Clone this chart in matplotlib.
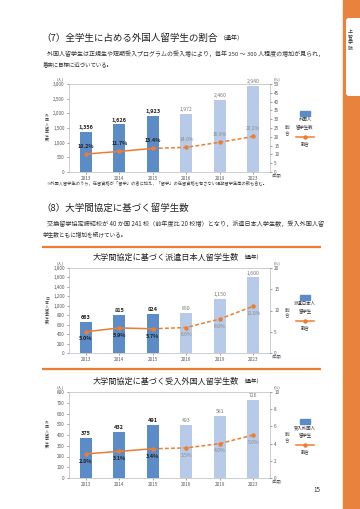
import matplotlib
matplotlib.use("Agg")
import matplotlib.pyplot as plt
from matplotlib.patches import Rectangle, FancyBboxPatch

plt.rcParams['font.family'] = ['Noto Sans CJK JP', 'DejaVu Sans']

years = ["2013", "2014", "2015", "2016", "2019", "2023"]

intl_students = [1356, 1626, 1923, 1972, 2460, 2940]
intl_ratio = [10.2, 11.7, 13.4, 14.0, 16.9, 20.2]

outbound_students = [663, 815, 824, 850, 1150, 1600]
outbound_ratio = [5.0, 5.9, 5.7, 6.0, 8.0, 11.0]

inbound_students = [375, 432, 491, 493, 581, 726]
inbound_ratio = [2.8, 3.1, 3.4, 3.5, 4.0, 5.0]

n_actual = 3  # first three are actual, rest are targets

DARK = "#5B8CC8"
LIGHT = "#B7CBE8"
ORANGE = "#ED7D31"

W, H = 360, 509
fig = plt.figure(figsize=(W / 100, H / 100), dpi=100)
fig.patch.set_facecolor("white")

bg = fig.add_axes([0, 0, 1, 1])
bg.set_xlim(0, W)
bg.set_ylim(H, 0)
bg.axis("off")

renderer = fig.canvas.get_renderer()


def fit_text(x0, x1, y, s, size, **kw):
    """Place left-aligned text and scale its size so it spans x0..x1 pixels."""
    t = bg.text(x0, y, s, fontsize=size, ha="left", va="center", **kw)
    w = t.get_window_extent(renderer).width
    t.set_fontsize(size * (x1 - x0) / w)
    return t


def text_end(t):
    return t.get_window_extent(renderer).x1


# sidebar
bg.add_patch(Rectangle((343, 0), 17, H, color="#E8823D", zorder=1))
bg.add_patch(FancyBboxPatch((346, 18), 20, 78, boxstyle="round,pad=0,rounding_size=3",
                            fc="white", ec="none", zorder=2))
bg.text(350, 40, "上\n智\n学\n院", fontsize=3.6, ha="center", va="center",
        linespacing=1.1, color="#333333", zorder=3)

# section 7
t7 = fit_text(41, 218, 38, "（7）全学生に占める外国人留学生の割合", 7.0, color="#222222")
bg.text(text_end(t7) + 2, 38.5, "（通年）", fontsize=4.3, ha="left", va="center", color="#222222")
fit_text(47, 320, 53.5, "外国人留学生は正規生や短期受入プログラムの受入増により，毎年 250 ～ 300 人程度の増加が見られ，",
         4.0, color="#333333")
fit_text(43, 113, 64.5, "着実に目標に近づいている。", 4.0, color="#333333")
fit_text(46, 262, 183, "※外国人留学生のうち，在留資格が「留学」の者に加え，「留学」の在留資格を有さない短期留学生等の数も含む。",
         3.0, color="#444444")

# section 8
fit_text(41, 189, 208, "（8）大学間協定に基づく留学生数", 7.0, color="#222222")
fit_text(47, 320, 224, "交換留学協定締結校が 40 か国 241 校（前年度比 20 校増）となり，派遣日本人学生数，受入外国人留",
         4.0, color="#333333")
fit_text(43, 127, 234, "学生数ともに増加を続けている。", 4.0, color="#333333")

bg.plot([42, 321], [246.5, 246.5], color=ORANGE, lw=1.6, solid_capstyle="butt")
bg.plot([42, 321], [368.5, 368.5], color=ORANGE, lw=1.6, solid_capstyle="butt")

ta = fit_text(93, 240, 257, "大学間協定に基づく派遣日本人留学生数", 6.0, color="#222222")
bg.text(text_end(ta) + 1, 257.5, "（通年）", fontsize=4.0, ha="left", va="center", color="#222222")
tb = fit_text(93, 240, 381, "大学間協定に基づく受入外国人留学生数", 6.0, color="#222222")
bg.text(text_end(tb) + 1, 381.5, "（通年）", fontsize=4.0, ha="left", va="center", color="#222222")

bg.text(317, 490, "15", fontsize=4.5, ha="center", va="center", color="#333333")


def vert(s):
    return "\n".join(list(s))


def draw_chart(top, bottom, counts, ratios, lmax, lstep, rmax, rstep,
               ylabel, legend_label, label_above):
    left, right = 69, 270
    ax = fig.add_axes([left / W, 1 - bottom / H, (right - left) / W, (bottom - top) / H])
    x = list(range(len(years)))
    colors = [DARK if i < n_actual else LIGHT for i in x]
    ax.bar(x, counts, width=0.36, color=colors, zorder=2)
    ax.set_xlim(-0.5, len(years) - 0.5)
    ax.set_ylim(0, lmax)
    ax.set_yticks(range(0, lmax + 1, lstep))
    ax.set_yticklabels([f"{v:,}" for v in range(0, lmax + 1, lstep)])
    ax.set_xticks(x)
    ax.set_xticklabels(years)
    ax.tick_params(labelsize=3.3, length=1.5, width=0.4, colors="#555555", pad=1.5)
    for s in ax.spines.values():
        s.set_color("#BBBBBB")
        s.set_linewidth(0.5)
    for i, v in enumerate(counts):
        bold = i < n_actual
        ax.text(i, v + lmax * 0.02, f"{v:,}", ha="center", va="bottom",
                fontsize=4.0 if bold else 3.7, fontweight="bold" if bold else "normal",
                color="#222222" if bold else "#777777")

    ax2 = ax.twinx()
    ax2.set_ylim(0, rmax)
    ax2.set_yticks([v for v in range(0, rmax + 1, rstep)])
    ax2.tick_params(labelsize=3.3, length=1.5, width=0.4, colors="#555555", pad=1.5)
    for s in ax2.spines.values():
        s.set_visible(False)
    ax2.plot(x[:n_actual], ratios[:n_actual], color=ORANGE, lw=1.1, zorder=3)
    ax2.plot(x[n_actual - 1:], ratios[n_actual - 1:], color=ORANGE, lw=1.1,
             ls=(0, (2.5, 1.5)), zorder=3)
    ax2.plot(x, ratios, ls="none", marker="o", ms=2.2, color=ORANGE, zorder=4)
    off = rmax * 0.085
    for i, v in enumerate(ratios):
        bold = i < n_actual
        y = v + off if label_above else v - off
        ax2.text(i, y, f"{v:.1f}%", ha="center", va="center",
                 fontsize=3.9 if bold else 3.6, fontweight="bold" if bold else "normal",
                 color="#222222" if bold else "#888888", zorder=5)

    # axis unit labels
    bg.text(60, top - 5, "(人)", fontsize=3.0, ha="center", va="center", color="#555555")
    bg.text(277, top - 5, "(%)", fontsize=3.0, ha="center", va="center", color="#555555")
    bg.text(272, bottom + 3.8, "(年度)", fontsize=2.8, ha="left", va="center", color="#555555")
    mid = (top + bottom) / 2
    bg.text(47, mid, vert(ylabel), fontsize=2.9, ha="center", va="center",
            linespacing=1.0, color="#444444")
    bg.text(287, mid + 2, vert("割合"), fontsize=3.3, ha="center", va="center",
            linespacing=1.0, color="#444444")
    # legend
    lx = 305
    ly = top + 29
    bg.add_patch(Rectangle((lx - 5, ly - 2.5), 10, 5, color=DARK, zorder=3))
    bg.text(lx, ly + 10, legend_label, fontsize=3.2, ha="center", va="center",
            linespacing=1.5, color="#333333")
    bg.plot([lx - 9, lx + 9], [ly + 24, ly + 24], color=ORANGE, lw=1.1)
    bg.plot([lx], [ly + 24], marker="o", ms=2.2, color=ORANGE)
    bg.text(lx, ly + 31, "割合", fontsize=3.2, ha="center", va="center", color="#333333")


draw_chart(84, 172, intl_students, intl_ratio, 3000, 500, 50, 5,
           "外国人留学生数", "外国人\n留学生数", True)
draw_chart(268, 353, outbound_students, outbound_ratio, 1800, 200, 20, 5,
           "日本人留学生数", "派遣日本人\n留学生", False)
draw_chart(392, 478, inbound_students, inbound_ratio, 800, 100, 10, 2,
           "外国人留学生数", "受入外国人\n留学生", False)

fig.savefig("out.png", dpi=100, facecolor="white")
